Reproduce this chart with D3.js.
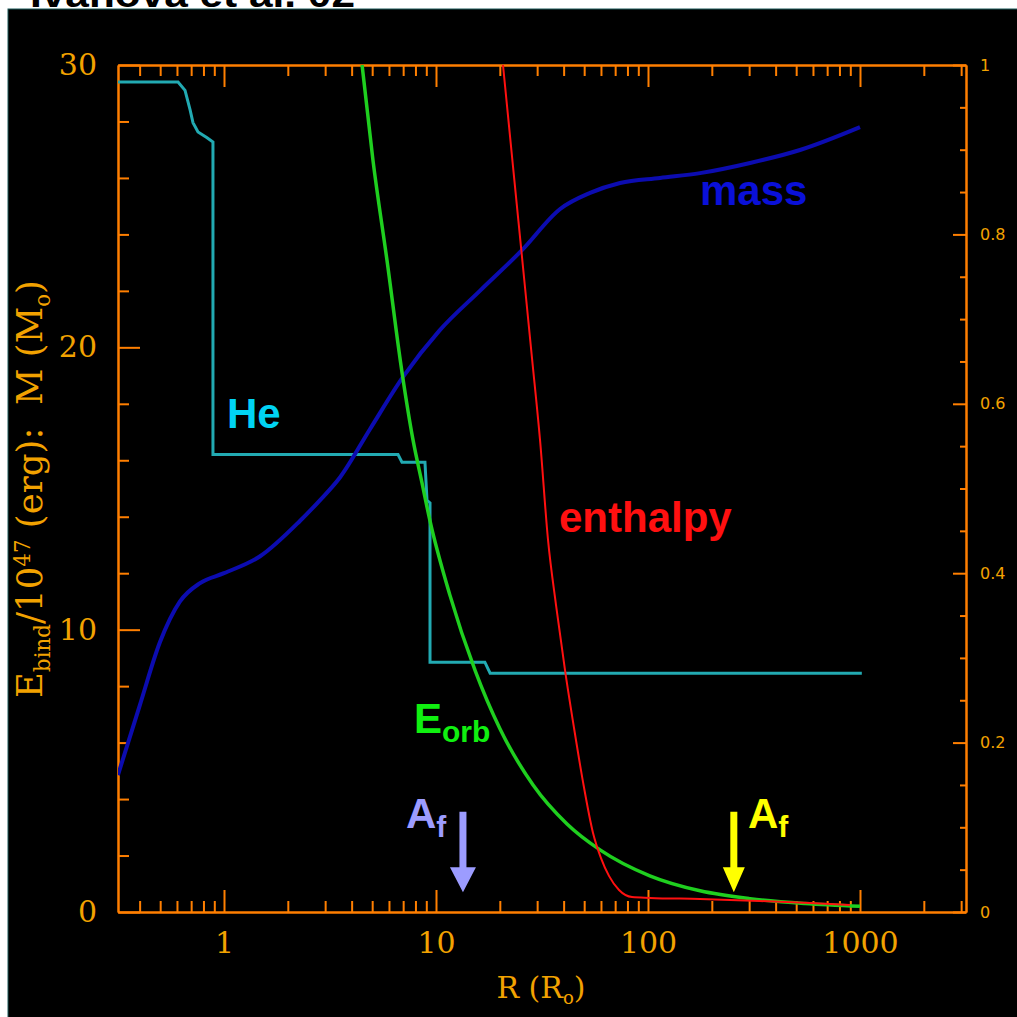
<!DOCTYPE html>
<html>
<head>
<meta charset="utf-8">
<script src="https://cdn.jsdelivr.net/npm/d3@7"></script>
<style>
  body { margin: 0; background: #fff; }
  svg { display: block; }
</style>
</head>
<body>
<script>
// values
// R in solar radii, mass in solar masses (left axis)
const massCurve = [
  [0.316, 4.85], [0.401, 7.33], [0.499, 9.56], [0.62, 11.0], [0.771, 11.65],
  [1.0, 12.0], [1.48, 12.6], [2.28, 13.85], [2.84, 14.59], [3.53, 15.4], [4.88, 17.1],
  [6.99, 18.95], [10.4, 20.6], [16.1, 22.0], [25.5, 23.45], [38.5, 24.9],
  [53.3, 25.47], [73.8, 25.82], [114, 26.0], [176, 26.17], [303, 26.53],
  [521, 26.99], [1000, 27.8]
];
// orbital energy, 10^47 erg (left axis)
const eorbCurve = [
  [4.48, 30.0], [5.04, 26.64], [5.87, 23.09], [6.92, 19.09], [7.79, 16.72],
  [8.59, 15.2], [9.37, 13.85], [11.6, 11.25], [15.3, 8.55], [20.0, 6.5],
  [28.7, 4.5], [41.5, 3.12], [59.4, 2.2], [102, 1.28], [176, 0.75],
  [303, 0.47], [550, 0.3], [1000, 0.2]
];
// binding energy with enthalpy, 10^47 erg (left axis)
const enthalpyCurve = [
  [20.7, 30.0], [23.07, 26.42], [25.72, 22.85], [28.37, 19.62], [30.95, 16.72],
  [33.76, 13.18], [36.81, 10.88], [40.6, 8.57], [44.77, 6.52], [49.36, 4.61],
  [55.04, 2.8], [60.02, 1.91], [65.46, 1.28], [73.0, 0.78], [84.05, 0.53],
  [102, 0.5], [176, 0.46], [337, 0.39], [581, 0.32], [897, 0.25]
];
// helium mass fraction (right axis)
const heProfile = [
  [0.316, 0.98], [0.607, 0.98], [0.655, 0.97], [0.692, 0.947], [0.714, 0.932],
  [0.754, 0.921], [0.832, 0.914], [0.887, 0.909], [0.887, 0.54], [6.62, 0.54],
  [6.91, 0.531], [8.87, 0.531], [9.07, 0.486], [9.37, 0.483], [9.37, 0.295],
  [17.0, 0.295], [18.0, 0.282], [1020, 0.282]
];
// final separations marked with arrows
const afR = [13.4, 254];

const xMajor = [1, 10, 100, 1000];
const leftMajor = [0, 10, 20, 30];
const rightMajor = [0, 0.2, 0.4, 0.6, 0.8, 1];

const W = 1017, H = 1017;
const svg = d3.select("body").append("svg").attr("width", W).attr("height", H);

const axisCol = "#ff7f00";
const textCol = "#f2a200";
const serif = "'DejaVu Serif', serif";
const sans = "'Liberation Sans', Arial, sans-serif";

// title, mostly hidden behind the black panel
svg.append("text")
  .attr("x", 30).attr("y", 7)
  .attr("font-family", sans).attr("font-weight", "bold")
  .attr("font-size", 36).attr("textLength", 325).attr("lengthAdjust", "spacingAndGlyphs")
  .attr("fill", "#000")
  .text("Ivanova et al. 02");

svg.append("rect")
  .attr("x", 8).attr("y", 9).attr("width", W).attr("height", H)
  .attr("fill", "#000").attr("stroke", "#1c5a5a").attr("stroke-width", 1);

const x = d3.scaleLog().domain([Math.pow(10, -0.5), Math.pow(10, 3.5)]).range([118, 966]);
const yL = d3.scaleLinear().domain([0, 30]).range([912, 65]);
const yR = d3.scaleLinear().domain([0, 1]).range([912, 65]);

const xMinor = [];
for (let d = -1; d <= 3; d++) {
  for (let k = 2; k <= 9; k++) {
    const v = k * Math.pow(10, d);
    if (v > x.domain()[0] && v < x.domain()[1]) xMinor.push(v);
  }
}
const leftMinor = d3.range(0, 31, 2).filter(v => v % 10 !== 0);
const rightMinor = d3.range(0, 21).map(i => i * 0.05).filter((v, i) => i % 4 !== 0);

function styleAxis(g) {
  g.selectAll("path, line").attr("stroke", axisCol).attr("stroke-width", 2);
  g.selectAll("text").attr("fill", textCol).attr("font-family", serif);
}

// bottom
svg.append("g").attr("transform", "translate(0,912)")
  .call(d3.axisBottom(x).tickValues(xMinor).tickSize(-11).tickSizeOuter(0).tickFormat(""))
  .call(styleAxis);
svg.append("g").attr("transform", "translate(0,912)")
  .call(d3.axisBottom(x).tickValues(xMajor).tickSize(-22).tickSizeOuter(0)
    .tickPadding(20).tickFormat(d3.format("d")))
  .call(styleAxis)
  .selectAll("text").attr("font-size", 30);

// top
svg.append("g").attr("transform", "translate(0,65)")
  .call(d3.axisTop(x).tickValues(xMinor).tickSize(-11).tickSizeOuter(0).tickFormat(""))
  .call(styleAxis);
svg.append("g").attr("transform", "translate(0,65)")
  .call(d3.axisTop(x).tickValues(xMajor).tickSize(-22).tickSizeOuter(0).tickFormat(""))
  .call(styleAxis);

// left
svg.append("g").attr("transform", "translate(118,0)")
  .call(d3.axisLeft(yL).tickValues(leftMinor).tickSize(-11).tickSizeOuter(0).tickFormat(""))
  .call(styleAxis);
svg.append("g").attr("transform", "translate(118,0)")
  .call(d3.axisLeft(yL).tickValues(leftMajor).tickSize(-22).tickSizeOuter(0).tickPadding(21))
  .call(styleAxis)
  .selectAll("text").attr("font-size", 30);

// right
svg.append("g").attr("transform", "translate(966,0)")
  .call(d3.axisRight(yR).tickValues(rightMinor).tickSize(-6).tickSizeOuter(0).tickFormat(""))
  .call(styleAxis);
svg.append("g").attr("transform", "translate(966,0)")
  .call(d3.axisRight(yR).tickValues(rightMajor).tickSize(-13).tickSizeOuter(0).tickPadding(14)
    .tickFormat(d => (d === 0 || d === 1) ? String(d) : d.toFixed(1)))
  .call(styleAxis)
  .selectAll("text").attr("font-size", 16).attr("font-family", "'DejaVu Sans', sans-serif");

// axis titles
const yTitle = svg.append("text")
  .attr("transform", "translate(42,489) rotate(-90)")
  .attr("text-anchor", "middle")
  .attr("font-family", serif).attr("font-size", 30).attr("fill", textCol);
yTitle.append("tspan").text("E");
yTitle.append("tspan").attr("font-size", "60%").attr("dy", 8).text("bind");
yTitle.append("tspan").attr("dy", -8).text("/10");
yTitle.append("tspan").attr("font-size", "60%").attr("dy", -12).text("47");
yTitle.append("tspan").attr("dy", 12).text(" (erg):\u00a0\u00a0M (M");
yTitle.append("tspan").attr("font-size", "60%").attr("dy", 8).text("o");
yTitle.append("tspan").attr("dy", -8).text(")");
const yLen = yTitle.node().getComputedTextLength();
yTitle.attr("font-size", 30 * 418 / yLen);

const xTitle = svg.append("text")
  .attr("x", 541).attr("y", 998)
  .attr("text-anchor", "middle")
  .attr("font-family", serif).attr("font-size", 30).attr("fill", textCol);
xTitle.append("tspan").text("R (R");
xTitle.append("tspan").attr("font-size", "60%").attr("dy", 6).text("o");
xTitle.append("tspan").attr("dy", -6).text(")");

// curves
svg.append("clipPath").attr("id", "plot")
  .append("rect").attr("x", 118).attr("y", 65).attr("width", 848).attr("height", 847);
const plot = svg.append("g").attr("clip-path", "url(#plot)");

const smoothL = d3.line().x(d => x(d[0])).y(d => yL(d[1])).curve(d3.curveMonotoneX);
const stepR = d3.line().x(d => x(d[0])).y(d => yR(d[1]));

plot.append("path").attr("d", stepR(heProfile))
  .attr("fill", "none").attr("stroke", "#22aab2").attr("stroke-width", 3);
plot.append("path").attr("d", smoothL(massCurve))
  .attr("fill", "none").attr("stroke", "#0c0cb0").attr("stroke-width", 4);
plot.append("path").attr("d", smoothL(eorbCurve))
  .attr("fill", "none").attr("stroke", "#1fcf1f").attr("stroke-width", 3.5);
plot.append("path").attr("d", smoothL(enthalpyCurve))
  .attr("fill", "none").attr("stroke", "#ff1010").attr("stroke-width", 2);

// labels
function label(txt, sub, px, py, col) {
  const t = svg.append("text").attr("x", px).attr("y", py)
    .attr("font-family", sans).attr("font-weight", "bold")
    .attr("font-size", 42).attr("fill", col);
  t.append("tspan").text(txt);
  if (sub) t.append("tspan").attr("font-size", 30).attr("dy", 9).text(sub);
}
label("He", null, 227, 428, "#00d4f4");
label("mass", null, 700, 205, "#0a10d8");
label("enthalpy", null, 559, 532, "#ff1010");
label("E", "orb", 414, 733, "#10f010");
label("A", "f", 406, 828, "#9c9cff");
label("A", "f", 748, 828, "#ffff00");

// arrows
const arrowCols = ["#9c9cff", "#ffff00"];
afR.forEach((r, i) => {
  const cx = x(r);
  const top = yL(3.55), tip = yL(0.7), headLen = 25, hw = i === 0 ? 13 : 11, sw = 3.5;
  svg.append("path")
    .attr("d", `M${cx - sw},${top} L${cx + sw},${top} L${cx + sw},${tip - headLen} L${cx + hw},${tip - headLen}
      L${cx},${tip} L${cx - hw},${tip - headLen} L${cx - sw},${tip - headLen} Z`)
    .attr("fill", arrowCols[i]);
});
</script>
</body>
</html>
